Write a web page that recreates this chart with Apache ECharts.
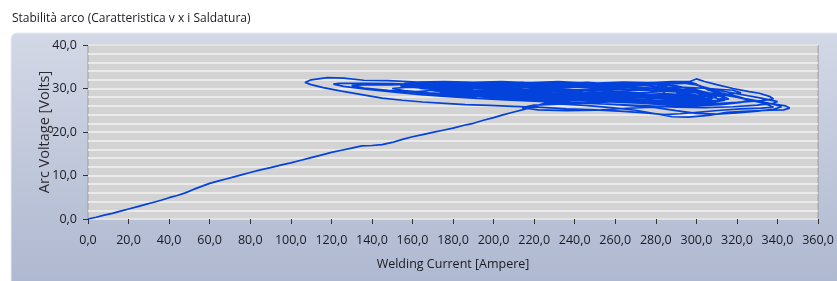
<!DOCTYPE html>
<html>
<head>
<meta charset="utf-8">
<title>Stabilità arco</title>
<script src="https://cdn.jsdelivr.net/npm/echarts@6/dist/echarts.min.js"></script>
<style>
  html, body { margin: 0; padding: 0; background: #fff; }
  #chart { width: 837px; height: 281px; }
</style>
</head>
<body>
<div id="chart"></div>
<script>
// tick labels
const xTicks = [0, 20, 40, 60, 80, 100, 120, 140, 160, 180, 200, 220, 240, 260, 280, 300, 320, 340, 360]
const yTicks = [0, 10, 20, 30, 40]

// arc start: current [A] vs voltage [V]
const ramp = [
    [0, 0], [4, 0.4], [8, 0.9], [12, 1.3], [16, 1.8], [20, 2.3], [24, 2.8], [28, 3.3], [32, 3.8], [36, 4.3],
    [40, 4.9], [44, 5.4], [48, 6.0], [52, 6.8], [56, 7.5], [60, 8.2], [64, 8.7], [68, 9.2], [72, 9.7], [76, 10.2],
    [80, 10.7], [85, 11.3], [90, 11.8], [95, 12.4], [100, 12.9], [105, 13.5], [110, 14.1], [115, 14.7], [120, 15.3],
    [125, 15.8], [130, 16.3], [135, 16.8], [140, 16.9], [145, 17.1], [150, 17.6], [155, 18.3], [160, 18.9],
    [165, 19.4], [170, 19.9], [175, 20.4], [180, 20.9], [185, 21.5], [190, 22.0], [195, 22.7], [200, 23.3],
    [205, 24.0], [210, 24.6], [215, 25.2], [220, 25.9], [226, 26.7]
]

// first wide loops (outer envelope)
const outerLoops = [
    [234, 26.4], [245, 26.1], [258, 25.6], [270, 25.0], [280, 24.2], [288, 23.5], [296, 23.4], [306, 23.8],
    [315, 24.5], [326, 24.8], [336, 25.0], [343, 25.1], [346, 25.5], [344, 26.0], [336, 26.6], [326, 27.4],
    [318, 28.2], [310, 29.0], [304, 30.0], [300, 31.0], [296, 31.6], [288, 31.6], [276, 31.3], [262, 31.4],
    [248, 31.2], [232, 31.5], [218, 31.3], [204, 31.6], [190, 31.4], [176, 31.6], [162, 31.5], [148, 31.8],
    [136, 31.9], [126, 32.4], [118, 32.5], [110, 32.0], [107, 31.4], [110, 30.9], [116, 30.2], [125, 29.4],
    [135, 28.6], [145, 27.8], [155, 27.3], [165, 26.9], [176, 26.6], [186, 26.3], [198, 26.1], [210, 25.9],
    [222, 25.7], [236, 25.3], [250, 25.1], [262, 24.8], [275, 24.4], [284, 24.0], [292, 24.2], [302, 24.6],
    [312, 25.0], [322, 25.3], [332, 25.5], [338, 25.7], [334, 26.5], [324, 27.6], [314, 28.6], [306, 29.6],
    [302, 30.6], [296, 31.2], [284, 31.4], [270, 31.0], [256, 30.8], [240, 31.0], [224, 30.7], [208, 31.0],
    [192, 30.8], [178, 31.0], [164, 30.9], [150, 31.1], [136, 31.2], [124, 31.2], [121, 31.0], [126, 30.5],
    [138, 29.8], [150, 29.2], [164, 28.6], [178, 28.1], [192, 27.7], [206, 27.4], [220, 27.1], [234, 26.8],
    [248, 26.6], [262, 26.3], [276, 26.0], [290, 25.7], [304, 25.6], [318, 25.8], [330, 26.2], [338, 26.6],
    [340, 27.0], [332, 27.8], [320, 28.8], [308, 29.8], [300, 30.8], [294, 31.2]
]

// dense core loops
const coreLoops = [
    [282, 31.0], [268, 30.6], [254, 30.4], [240, 30.7], [226, 30.3], [212, 30.5], [198, 30.2], [184, 30.4],
    [170, 30.1], [158, 30.3], [150, 30.0], [156, 29.5], [168, 29.0], [182, 28.6], [196, 28.3], [210, 28.0],
    [224, 27.8], [238, 27.5], [252, 27.3], [266, 27.1], [280, 26.8], [294, 26.7], [308, 27.0], [316, 27.6],
    [312, 28.4], [304, 29.2], [298, 30.0], [292, 30.4], [280, 30.2], [266, 29.8], [252, 30.0], [238, 29.6],
    [224, 29.9], [210, 29.5], [196, 29.7], [182, 29.4], [170, 29.6], [160, 29.2], [168, 28.7], [180, 28.4],
    [194, 28.1], [208, 27.8], [222, 27.6], [236, 27.3], [250, 27.1], [264, 26.8], [278, 26.5], [290, 26.3],
    [302, 26.4], [310, 26.9], [306, 27.6], [298, 28.4], [292, 29.2], [288, 29.8], [276, 30.9], [262, 31.2],
    [246, 30.9], [230, 31.3], [214, 30.9], [198, 31.2], [182, 30.9], [166, 31.1], [150, 30.8], [138, 30.9],
    [130, 30.7], [136, 30.1], [148, 29.6], [162, 29.1], [176, 28.8], [190, 28.4], [204, 28.2], [218, 27.9],
    [232, 27.7], [246, 27.4], [260, 27.0], [274, 26.6], [288, 26.2], [300, 26.0], [312, 26.3], [322, 26.8],
    [326, 27.4], [320, 28.2], [312, 29.0], [306, 29.8], [302, 30.5], [296, 31.5], [300, 32.2], [304, 31.6]
]

// late loops, drifting to the right
const rightLoops = [
    [310, 30.9], [318, 30.0], [326, 29.3], [331, 28.9], [336, 28.2], [338, 27.6], [332, 27.2], [320, 26.8],
    [306, 26.4], [292, 26.0], [278, 25.7], [264, 25.4], [250, 25.0], [236, 24.9], [222, 25.1], [214, 25.6],
    [220, 26.2], [232, 26.4], [246, 26.7], [260, 27.0], [274, 27.6], [288, 28.0], [300, 28.3], [312, 28.6],
    [322, 29.0], [318, 29.6], [306, 30.0], [292, 30.3], [278, 30.0], [264, 30.4], [250, 30.1], [236, 30.5],
    [222, 30.2], [208, 30.6], [194, 30.3], [180, 30.7], [168, 30.4], [160, 30.6], [164, 30.0], [176, 29.6],
    [190, 29.2], [204, 28.9], [218, 28.6], [232, 28.3], [246, 28.0], [260, 27.8], [274, 27.5], [288, 27.2],
    [300, 27.0], [310, 27.3], [314, 27.9], [308, 28.6], [298, 29.2], [286, 29.4], [272, 29.0], [258, 29.3],
    [244, 29.0], [230, 29.4], [216, 29.1], [202, 29.4], [188, 29.0], [176, 29.2], [172, 28.8], [182, 28.3],
    [196, 28.0], [210, 27.6], [224, 27.2], [238, 26.8], [252, 26.5], [266, 26.1], [280, 25.6], [290, 24.9],
    [300, 24.3], [310, 24.1], [320, 24.4], [330, 24.8], [338, 25.2], [342, 25.8], [336, 26.6], [326, 27.5],
    [316, 28.3], [306, 29.0], [298, 29.8], [290, 30.6], [280, 31.0], [266, 30.7], [252, 31.0], [238, 30.6],
    [224, 31.0], [210, 30.7], [196, 31.0], [186, 30.6], [190, 30.1], [204, 29.8], [218, 29.6], [232, 29.3],
    [246, 29.0], [260, 28.7], [274, 28.5], [288, 28.2], [300, 28.0], [306, 28.6], [300, 29.4], [290, 29.8],
    [276, 29.6], [262, 29.9], [248, 29.5], [234, 29.8], [220, 29.4], [206, 29.7], [196, 29.3], [200, 28.8],
    [214, 28.4], [228, 28.1], [242, 27.8], [256, 27.6], [270, 27.3], [284, 27.0], [296, 26.8], [304, 27.2],
    [298, 27.8], [286, 28.0]
]

// last loops, packed in the middle band
const lateLoops = [
    [280, 31.3], [264, 31.5], [248, 31.2], [232, 31.6], [216, 31.3], [200, 31.5], [184, 31.2], [168, 31.4],
    [156, 31.2], [160, 30.8], [174, 30.5], [188, 30.2], [202, 30.0], [216, 29.7], [230, 29.5], [244, 29.2],
    [258, 29.0], [272, 28.7], [286, 28.4], [298, 28.2], [304, 28.8], [298, 29.6], [286, 30.1], [272, 30.8],
    [258, 30.6], [244, 30.9], [230, 30.6], [216, 30.9], [202, 30.5], [188, 30.8], [176, 30.5], [168, 30.1],
    [178, 29.7], [192, 29.4], [206, 29.2], [220, 28.9], [234, 28.6], [248, 28.3], [262, 28.1], [276, 27.9],
    [290, 27.6], [302, 27.5], [308, 28.0], [304, 28.9], [296, 29.5], [284, 29.9], [270, 30.3], [256, 30.0],
    [242, 30.3], [228, 30.0], [214, 30.2], [200, 29.9], [186, 30.1], [174, 29.9], [170, 29.5], [182, 29.0],
    [196, 28.7], [210, 28.5], [224, 28.2], [238, 28.0], [252, 27.8], [266, 27.6], [280, 27.4], [294, 27.2],
    [306, 27.5], [310, 28.2], [302, 29.0], [292, 29.6], [278, 31.2], [262, 30.9], [246, 31.4], [230, 31.0],
    [214, 31.4], [198, 30.9], [182, 31.3], [166, 30.9], [154, 30.6], [162, 30.2], [176, 29.9], [190, 29.6],
    [204, 29.4], [218, 29.1], [232, 28.9], [246, 28.6], [260, 28.4], [274, 28.2], [288, 27.9], [300, 27.8],
    [306, 28.3], [300, 29.0], [288, 29.3], [274, 29.7], [260, 29.4], [246, 29.7], [232, 29.3], [218, 29.6],
    [204, 29.2], [190, 29.5], [180, 29.1], [186, 28.6], [200, 28.3], [214, 28.1], [228, 27.9], [242, 27.7],
    [256, 27.4], [270, 27.2], [284, 27.1], [298, 27.3], [304, 27.8], [296, 28.5], [284, 28.8], [270, 28.5],
    [256, 28.9], [242, 28.5], [228, 28.8], [214, 28.4], [200, 28.7], [190, 28.3], [198, 27.9], [212, 27.6],
    [226, 27.4], [240, 27.2], [254, 27.0], [268, 26.9], [282, 26.7], [296, 26.5], [308, 26.8], [314, 27.3],
    [308, 28.0], [298, 28.6], [290, 29.0]
]

const arcPath = ramp.concat(outerLoops, coreLoops, rightLoops, lateLoops)

const fmt = v => v.toFixed(1).replace('.', ',')
const font = '"Open Sans", "Noto Sans", sans-serif'

const chart = echarts.init(document.getElementById('chart'), null, { renderer: 'canvas' })

chart.setOption({
    animation: false,
    backgroundColor: '#ffffff',
    textStyle: { fontFamily: font },
    title: {
        text: 'Stabilità arco (Caratteristica v x i Saldatura)',
        left: 7,
        top: 8,
        textStyle: { fontSize: 12, fontWeight: 'normal', color: '#1a1a22', fontFamily: font }
    },
    graphic: [
        {
            type: 'rect',
            z: -10,
            silent: true,
            shape: { x: 11, y: 33, width: 840, height: 260, r: 6 },
            style: {
                fill: new echarts.graphic.LinearGradient(0, 0, 0, 1, [
                    { offset: 0, color: '#d3d8e6' },
                    { offset: 1, color: '#adb7cf' }
                ]),
                stroke: '#e8ebf2',
                lineWidth: 1
            }
        }
    ],
    grid: {
        left: 88,
        right: 15,
        top: 45,
        bottom: 62,
        show: true,
        backgroundColor: '#d3d3d3',
        borderColor: '#9c9c9c',
        borderWidth: 1
    },
    xAxis: {
        type: 'value',
        min: 0,
        max: 360,
        interval: 20,
        offset: 3,
        name: 'Welding Current [Ampere]',
        nameLocation: 'middle',
        nameGap: 36,
        nameMoveOverlap: false,
        nameTextStyle: { fontSize: 12.5, color: '#1a1a22', fontFamily: font },
        axisLine: { show: false },
        axisTick: { show: true, length: 5, lineStyle: { color: '#333', width: 1 } },
        axisLabel: {
            margin: 12,
            fontSize: 12.5,
            color: '#1a1a22',
            fontFamily: font,
            formatter: v => xTicks.includes(v) ? fmt(v) : ''
        },
        splitLine: { show: false }
    },
    yAxis: {
        type: 'value',
        min: 0,
        max: 40,
        interval: 10,
        offset: 2,
        name: 'Arc Voltage [Volts]',
        nameLocation: 'middle',
        nameGap: 34,
        nameMoveOverlap: false,
        nameTextStyle: { fontSize: 14.5, color: '#2a2a33', fontFamily: font },
        axisLine: { show: false },
        axisTick: { show: true, length: 5, lineStyle: { color: '#333', width: 1 } },
        axisLabel: {
            margin: 9,
            fontSize: 12.5,
            color: '#1a1a22',
            fontFamily: font,
            formatter: v => yTicks.includes(v) ? fmt(v) : ''
        },
        splitLine: { show: true, lineStyle: { color: '#f2f2f2', width: 1.5 } },
        minorTick: { show: false, splitNumber: 5 },
        minorSplitLine: { show: true, lineStyle: { color: '#f2f2f2', width: 1.5 } }
    },
    series: [
        {
            type: 'line',
            data: arcPath,
            showSymbol: false,
            symbol: 'none',
            clip: true,
            lineStyle: { color: '#0442dc', width: 1.7 },
            z: 5
        }
    ]
})
</script>
</body>
</html>
